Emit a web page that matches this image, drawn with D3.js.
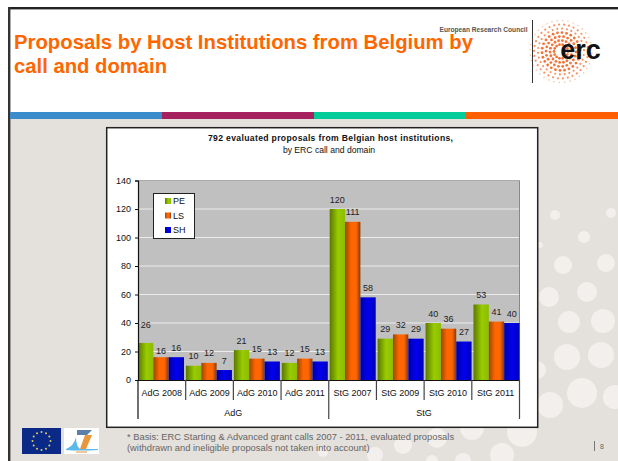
<!DOCTYPE html>
<html><head><meta charset="utf-8">
<script src="https://cdnjs.cloudflare.com/ajax/libs/d3/7.8.5/d3.min.js"></script>
<style>html,body{margin:0;padding:0;background:#fff}svg{display:block}text{font-family:"Liberation Sans",Arial,sans-serif}</style>
</head><body><svg id="c" width="618" height="461"></svg>
<script>
const categories=["AdG 2008","AdG 2009","AdG 2010","AdG 2011","StG 2007","StG 2009","StG 2010","StG 2011"];
const groupNames=["AdG","StG"];
const seriesNames=["PE","LS","SH"];
const PE=[26,10,21,12,120,29,40,53];
const LS=[16,12,15,15,111,32,36,41];
const SH=[16,7,13,13,58,29,27,40];
const seriesValues=[PE,LS,SH];
const yTicks=[0,20,40,60,80,100,120,140];
const gradientStops=[
  [[0,"#5a7800"],[55,"#99cc00"],[100,"#8cbc00"]],
  [[0,"#9c4600"],[40,"#ff6600"],[72,"#ff6600"],[100,"#8a3a00"]],
  [[0,"#0000a8"],[50,"#0000f0"],[100,"#0000b8"]]
];
const bgDots=[[555,215,5],[611,213,5],[584,237,6],[563,265,9],[606,263,9],[549,297,10],[587,292,10],[569,322,11],[603,321,12],[567,357,13],[601,355,13],[582,393,15],[550,405,13],[537,370,9],[540,245,3],[615,397,12],[522,432,15],[472,428,12],[437,438,10],[403,445,9],[375,455,8],[502,455,12],[463,461,8],[432,461,6],[323,452,5]];
const svg=d3.select("#c");
const defs=svg.append("defs");
gradientStops.forEach((c,i)=>{
  const g=defs.append("linearGradient").attr("id","g"+i);
  c.forEach(s=>g.append("stop").attr("offset",s[0]+"%").attr("stop-color",s[1]));
});
// slide
svg.append("rect").attr("x",10).attr("y",119).attr("width",608).attr("height",342).attr("fill","#e4e0dc");
svg.append("g").selectAll("circle").data(bgDots).join("circle").attr("cx",d=>d[0]).attr("cy",d=>d[1]).attr("r",d=>d[2]).attr("fill","#f2efed");
svg.append("rect").attr("x",8).attr("y",7).attr("width",610).attr("height",2.4).attr("fill","#222");
svg.append("rect").attr("x",8).attr("y",7).attr("width",2.4).attr("height",454).attr("fill","#333");
const stripes=["#3a8ccb","#a6225f","#00cc99","#ff5f00"];
const sx=d3.scaleBand().domain(d3.range(4)).range([10,618]);
svg.append("g").selectAll("rect").data(stripes).join("rect").attr("x",(d,i)=>sx(i)).attr("y",112).attr("width",sx.bandwidth()+.5).attr("height",7).attr("fill",d=>d);
// title
const title=svg.append("g").attr("fill","#ff6600").attr("font-weight","bold").attr("font-size",21);
title.append("text").attr("x",14).attr("y",49).attr("textLength",459).attr("lengthAdjust","spacingAndGlyphs").text("Proposals by Host Institutions from Belgium by");
title.append("text").attr("x",14).attr("y",73).attr("textLength",153).attr("lengthAdjust","spacingAndGlyphs").text("call and domain");
svg.append("text").attr("x",527.5).attr("y",32).attr("text-anchor","end").attr("font-size",6.6).attr("font-weight","bold").attr("fill","#555").text("European Research Council");
svg.append("line").attr("x1",532.5).attr("x2",532.5).attr("y1",20).attr("y2",83).attr("stroke","#333").attr("stroke-width",1);
// erc logo dots
const logo=svg.append("g");
const rings=[[7,14],[11,18],[15,22],[19,26],[23,30],[27,34],[31,36]];
rings.forEach(([r,n],ri)=>d3.range(n).forEach(k=>{const a=k/n*2*Math.PI+ri*.3;
  logo.append("circle").attr("cx",561+r*Math.cos(a)).attr("cy",51.5+r*Math.sin(a)).attr("r",ri<4?1.4:ri<6?1.1:.8).attr("fill","#f26522").attr("opacity",ri<4?.9:ri<6?.7:.4);}));
svg.append("text").attr("x",580.5).attr("y",58.5).attr("text-anchor","middle").attr("font-size",27).attr("font-weight","bold").attr("fill","#111").text("erc");
// chart box
svg.append("rect").attr("x",106.7).attr("y",127.7).attr("width",431).attr("height",299.6).attr("fill","#fff").attr("stroke","#222").attr("stroke-width",1.5);
const ct=svg.append("g").attr("text-anchor","middle").attr("fill","#111").attr("font-size",8.6);
ct.append("text").attr("x",330.5).attr("y",141).attr("font-weight","bold").attr("textLength",245).text("792 evaluated proposals from Belgian host institutions,");
ct.append("text").attr("x",329).attr("y",153).text("by ERC call and domain");
// plot
const L=138,R=519.5,T=180.5,B=380;
const x0=d3.scaleBand().domain(categories).range([L,R]).paddingInner(0.04).paddingOuter(0);
const x1=d3.scaleBand().domain(seriesNames).range([0,x0.bandwidth()]);
const y=d3.scaleLinear().domain([0,140]).range([B,T]);
const step=(R-L)/categories.length;
const fs=9;
svg.append("rect").attr("x",L).attr("y",T).attr("width",R-L).attr("height",B-T).attr("fill","#c0c0c0");
svg.append("line").attr("x1",L).attr("x2",R).attr("y1",T).attr("y2",T).attr("stroke","#aaa");
svg.append("g").selectAll("line").data(yTicks.filter(t=>t>0&&t<140)).join("line").attr("x1",L).attr("x2",R).attr("y1",y).attr("y2",y).attr("stroke","#ececec").attr("stroke-width",1.2);
svg.append("line").attr("x1",R).attr("x2",R).attr("y1",T).attr("y2",B).attr("stroke","#888");
const s=svg.append("g").selectAll("g").data(seriesNames).join("g");
s.each(function(name,i){
  const v=seriesValues[i];
  d3.select(this).selectAll("rect").data(categories).join("rect")
    .attr("x",c=>x0(c)+x1(name)).attr("y",(c,k)=>y(v[k])).attr("width",x1.bandwidth()).attr("height",(c,k)=>B-y(v[k])).attr("fill",`url(#g${i})`);
});
// the first group's labels sit at slightly different heights in the source
const labelShift=(i,k)=>k===0?(i===0?-8:i===1?3:0):0;
s.each(function(name,i){
  const v=seriesValues[i];
  d3.select(this).selectAll("text").data(categories).join("text").attr("x",c=>x0(c)+x1(name)+x1.bandwidth()/2).attr("y",(c,k)=>y(v[k])-6.5+labelShift(i,k)).attr("text-anchor","middle").attr("font-size",fs).attr("fill","#222").text((c,k)=>v[k]);
});
const ya=svg.append("g").attr("transform",`translate(${L},0)`).call(d3.axisLeft(y).tickValues(yTicks).tickSize(3).tickPadding(4));
ya.selectAll("text").attr("font-size",fs).attr("fill","#111");
ya.selectAll("line").attr("stroke","#111");
ya.select("path").attr("stroke","#111").attr("stroke-width",1.2);
// category axis
svg.append("line").attr("x1",L-1).attr("x2",R).attr("y1",B+.5).attr("y2",B+.5).attr("stroke","#111").attr("stroke-width",1.2);
svg.append("g").selectAll("line").data(d3.range(categories.length+1)).join("line")
  .attr("x1",i=>L+i*step).attr("x2",i=>L+i*step).attr("y1",B).attr("y2",i=>(i%4==0)?419:400).attr("stroke",i=>i==0?"#111":"#444").attr("stroke-width",1.2);
svg.append("g").selectAll("text").data(categories).join("text").attr("x",(d,i)=>L+(i+.5)*step).attr("y",396).attr("text-anchor","middle").attr("font-size",fs).attr("fill","#111").text(d=>d);
svg.append("g").selectAll("text").data(groupNames).join("text").attr("x",(d,i)=>L+(i*4+2)*step).attr("y",416).attr("text-anchor","middle").attr("font-size",fs).attr("fill","#111").text(d=>d);
// legend
const lg=svg.append("g");
lg.append("rect").attr("x",153.5).attr("y",193.5).attr("width",41).attr("height",45).attr("fill","#fff").attr("stroke","#222");
const ly=d3.scalePoint().domain(seriesNames).range([201,230]);
seriesNames.forEach((n,i)=>{
  lg.append("rect").attr("x",165).attr("y",ly(n)-3).attr("width",6).attr("height",6).attr("fill",`url(#g${i})`);
  lg.append("text").attr("x",173).attr("y",ly(n)+3.2).attr("font-size",fs).attr("fill","#111").text(n);
});
// footer
const ft=svg.append("g").attr("font-size",9.35).attr("fill","#666");
ft.append("text").attr("x",127).attr("y",440).text("* Basis: ERC Starting & Advanced grant calls 2007 - 2011, evaluated proposals");
ft.append("text").attr("x",127).attr("y",451).text("(withdrawn and ineligible proposals not taken into account)");
svg.append("line").attr("x1",594.5).attr("x2",594.5).attr("y1",441).attr("y2",451).attr("stroke","#777");
svg.append("text").attr("x",600).attr("y",449).attr("font-size",7).attr("fill","#666").text("8");
// flag and FP7
svg.append("rect").attr("x",22).attr("y",428).attr("width",39).attr("height",26).attr("fill","#0b2a87");
svg.append("g").selectAll("circle").data(d3.range(12)).join("circle").attr("cx",i=>41.5+9*Math.cos(i*Math.PI/6)).attr("cy",i=>441+9*Math.sin(i*Math.PI/6)).attr("r",1).attr("fill","#d8cf60");
svg.append("rect").attr("x",64).attr("y",428).attr("width",35).attr("height",26).attr("fill","#fff");
svg.append("path").attr("d","M77 430H92L87 435H77Z").attr("fill","#5a7fa8");
svg.append("path").attr("d","M85 435H92L86 449H80Z").attr("fill","#e8973a");
svg.append("path").attr("d","M66 449Q74 446 76 437Q76 446 80 449L98 449V450Q80 451 66 450Z").attr("fill","#5bb8e8");
svg.append("rect").attr("x",76).attr("y",451).attr("width",11).attr("height",2).attr("fill","#f3c79a");
</script></body></html>
